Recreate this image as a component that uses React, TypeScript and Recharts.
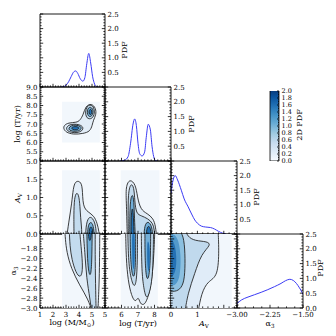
import React from 'react';
import { ComposedChart, XAxis, YAxis, Scatter, Line, Bar } from 'recharts';

const FONT = 'DejaVu Serif';
const M = 30;

// ---------- 1D marginal PDFs ----------
const logMGrid = [2.6, 2.8, 3.0, 3.2, 3.4, 3.6, 3.75, 3.9, 4.1, 4.3, 4.45, 4.6, 4.75, 4.9, 5.05, 5.2, 5.35, 5.5];
const logMPdf = [0, 0.01, 0.06, 0.18, 0.36, 0.52, 0.55, 0.47, 0.28, 0.2, 0.32, 0.8, 1.15, 0.82, 0.35, 0.1, 0.01, 0];
const logTGrid = [5.9, 6.2, 6.4, 6.55, 6.7, 6.8, 6.9, 7.0, 7.1, 7.25, 7.4, 7.5, 7.62, 7.75, 7.85, 7.95, 8.05, 8.2];
const logTPdf = [0, 0.03, 0.15, 0.6, 1.25, 1.42, 1.2, 0.6, 0.25, 0.17, 0.3, 0.8, 1.24, 1.05, 0.5, 0.15, 0.02, 0];
const avGrid = [0, 0.08, 0.16, 0.25, 0.39, 0.5, 0.65, 0.8, 0.9, 1.0, 1.15, 1.3, 1.5, 1.65, 1.8, 1.95, 2.08];
const avPdf = [1.4, 1.85, 2.0, 1.85, 1.5, 1.2, 0.93, 0.65, 0.48, 0.37, 0.27, 0.24, 0.22, 0.17, 0.09, 0.03, 0];
const a3Grid = [-3.0, -2.9, -2.75, -2.6, -2.45, -2.3, -2.15, -2.0, -1.9, -1.8, -1.72, -1.65, -1.58, -1.52, -1.5];
const a3Pdf = [0.15, 0.27, 0.37, 0.45, 0.53, 0.62, 0.72, 0.83, 0.92, 0.97, 0.93, 0.83, 0.68, 0.52, 0.45];

// ---------- 2D contours (x, y) ----------
type P = [number, number][];
// log M vs log T
const mtBg: P = [[2.7, 6.0], [5.6, 6.0], [5.6, 8.2], [2.7, 8.2]];
const mtC1: P = [[2.8, 6.75], [3.0, 6.55], [3.56, 6.43], [4.33, 6.48], [4.85, 6.6], [5.02, 6.93], [5.1, 7.2], [5.32, 7.5], [5.3, 7.85], [4.97, 8.12], [4.5, 7.97], [4.33, 7.5], [4.08, 7.2], [3.82, 7.08], [3.18, 7.07], [2.85, 6.93]];
const mtC2u: P = [[4.85, 8.05], [5.12, 7.95], [5.22, 7.65], [5.1, 7.35], [4.82, 7.25], [4.55, 7.35], [4.48, 7.65], [4.6, 7.95]];
const mtC2l: P = [[3.0, 6.78], [3.2, 6.95], [3.6, 7.0], [4.05, 6.97], [4.35, 6.83], [4.25, 6.62], [3.85, 6.52], [3.4, 6.54], [3.1, 6.63]];
const mtC3u: P = [[4.88, 7.92], [5.07, 7.82], [5.1, 7.62], [4.98, 7.42], [4.8, 7.38], [4.65, 7.5], [4.63, 7.72], [4.72, 7.88]];
const mtC3l: P = [[3.2, 6.78], [3.4, 6.92], [3.75, 6.95], [4.15, 6.88], [4.2, 6.72], [3.9, 6.6], [3.5, 6.6], [3.25, 6.67]];
const mtC4u: P = [[4.9, 7.82], [5.0, 7.72], [4.98, 7.55], [4.86, 7.48], [4.76, 7.58], [4.78, 7.75]];
const mtC4l: P = [[3.4, 6.8], [3.6, 6.87], [3.95, 6.85], [4.02, 6.75], [3.8, 6.67], [3.5, 6.69]];
// log M vs Av
const maBg: P = [[2.7, -0.1], [5.6, -0.1], [5.6, 1.75], [2.7, 1.75]];
const maC1: P = [[3.05, -0.1], [3.05, -0.1], [3.2, 0.3], [3.45, 0.85], [3.55, 1.25], [3.72, 1.45], [4.08, 1.45], [4.28, 1.3], [4.28, 0.75], [4.7, 0.6], [5.15, 0.5], [5.4, 0.3], [5.55, 0.05], [5.55, -0.1], [5.55, -0.1]];
const maC2a: P = [[3.62, -0.1], [3.62, -0.1], [3.6, 0.4], [3.62, 0.9], [3.76, 1.14], [3.98, 1.1], [4.08, 0.75], [4.12, 0.45], [4.2, 0.2], [4.22, -0.1], [4.22, -0.1]];
const maC2b: P = [[4.5, -0.1], [4.5, -0.1], [4.55, 0.3], [4.8, 0.5], [5.15, 0.4], [5.32, 0.15], [5.32, -0.1], [5.32, -0.1]];
const maC3: P = [[4.65, -0.1], [4.65, -0.1], [4.68, 0.22], [4.88, 0.35], [5.12, 0.25], [5.18, -0.1], [5.18, -0.1]];
const maC4: P = [[4.76, -0.1], [4.76, -0.1], [4.78, 0.14], [4.92, 0.22], [5.06, 0.14], [5.08, -0.1], [5.08, -0.1]];
// log T vs Av
const taBg: P = [[5.95, -0.1], [8.3, -0.1], [8.3, 1.75], [5.95, 1.75]];
const taC1: P = [[6.35, -0.1], [6.35, -0.1], [6.3, 0.84], [6.25, 1.3], [6.5, 1.52], [6.86, 1.36], [6.96, 1.02], [7.16, 0.66], [7.56, 0.56], [7.93, 0.43], [8.07, 0.2], [8.13, -0.1], [8.13, -0.1]];
const taC2: P = [[6.42, -0.1], [6.42, -0.1], [6.4, 0.5], [6.4, 1.1], [6.55, 1.4], [6.76, 1.3], [6.8, 0.9], [6.9, 0.55], [7.2, 0.5], [7.6, 0.42], [7.9, 0.3], [8.0, 0.1], [8.0, -0.1], [8.0, -0.1]];
const taC3a: P = [[6.5, -0.1], [6.5, -0.1], [6.5, 0.6], [6.56, 1.02], [6.7, 1.1], [6.76, 0.8], [6.8, 0.3], [6.84, -0.1], [6.84, -0.1]];
const taC3b: P = [[7.35, -0.1], [7.35, -0.1], [7.4, 0.25], [7.6, 0.36], [7.85, 0.22], [7.9, -0.1], [7.9, -0.1]];
const taC4a: P = [[6.58, -0.1], [6.58, -0.1], [6.58, 0.5], [6.66, 0.78], [6.73, 0.5], [6.76, -0.1], [6.76, -0.1]];
const taC4b: P = [[7.5, -0.1], [7.5, -0.1], [7.52, 0.15], [7.65, 0.24], [7.78, 0.13], [7.8, -0.1], [7.8, -0.1]];
// log M vs alpha3
const mbBg: P = [[2.7, -3.1], [5.6, -3.1], [5.6, -1.4], [2.7, -1.4]];
const mbC1: P = [[2.9, -1.4], [2.9, -1.4], [2.95, -1.6], [3.05, -1.86], [3.4, -2.2], [4.05, -2.54], [4.7, -2.82], [5.05, -3.1], [5.05, -3.1], [5.45, -3.1], [5.45, -3.1], [5.55, -2.5], [5.58, -2.1], [5.6, -1.4], [5.6, -1.4]];
const mbC2a: P = [[3.25, -1.4], [3.25, -1.4], [3.3, -1.75], [3.45, -2.02], [3.75, -2.28], [4.1, -2.4], [4.3, -2.25], [4.22, -1.9], [4.1, -1.6], [4.05, -1.4], [4.05, -1.4]];
const mbC2b: P = [[4.3, -1.4], [4.3, -1.4], [4.45, -1.86], [4.58, -2.4], [4.85, -2.82], [4.98, -3.1], [4.98, -3.1], [5.32, -3.1], [5.32, -3.1], [5.27, -2.5], [5.24, -1.9], [5.25, -1.4], [5.25, -1.4]];
const mbC3: P = [[4.6, -1.4], [4.6, -1.4], [4.62, -1.7], [4.65, -2.0], [4.75, -2.3], [4.9, -2.36], [4.98, -2.1], [5.0, -1.75], [5.02, -1.4], [5.02, -1.4]];
const mbC4: P = [[4.72, -1.4], [4.72, -1.4], [4.74, -1.62], [4.9, -1.66], [4.98, -1.4], [4.98, -1.4]];
// log T vs alpha3
const tbBg: P = [[5.95, -3.1], [8.2, -3.1], [8.2, -1.4], [5.95, -1.4]];
const tbC1: P = [[6.25, -1.4], [6.25, -1.4], [6.28, -2.0], [6.4, -2.45], [6.6, -2.75], [6.85, -2.9], [7.02, -2.75], [7.12, -2.92], [7.4, -2.95], [7.65, -2.75], [7.85, -2.4], [7.97, -1.9], [8.02, -1.4], [8.02, -1.4]];
const tbC2a: P = [[6.38, -1.4], [6.38, -1.4], [6.42, -2.1], [6.6, -2.45], [6.8, -2.6], [6.93, -2.4], [6.97, -1.9], [6.97, -1.4], [6.97, -1.4]];
const tbC2b: P = [[7.2, -1.4], [7.2, -1.4], [7.22, -2.2], [7.32, -2.55], [7.5, -2.84], [7.7, -2.7], [7.87, -2.4], [7.93, -1.9], [7.94, -1.4], [7.94, -1.4]];
const tbC3a: P = [[6.52, -1.4], [6.52, -1.4], [6.54, -2.0], [6.65, -2.36], [6.8, -2.38], [6.86, -2.0], [6.86, -1.4], [6.86, -1.4]];
const tbC3b: P = [[7.42, -1.4], [7.42, -1.4], [7.42, -2.0], [7.5, -2.42], [7.66, -2.42], [7.76, -2.0], [7.77, -1.4], [7.77, -1.4]];
const tbC4a: P = [[6.64, -1.4], [6.8, -1.4], [6.82, -1.9], [6.76, -2.25], [6.68, -2.2], [6.64, -1.85]];
const tbC4b: P = [[7.58, -1.6], [7.72, -1.72], [7.72, -2.15], [7.65, -2.3], [7.56, -2.15], [7.55, -1.8]];
// Av vs alpha3
const abBg: P = [[0, -3.1], [2.3, -3.1], [2.3, -1.4], [0, -1.4]];
const abC0: P = [[-0.2, -1.4], [-0.2, -1.4], [1.78, -1.4], [1.78, -1.4], [1.82, -1.8], [1.78, -2.37], [1.4, -2.45], [1.15, -2.7], [1.02, -3.1], [1.02, -3.1], [-0.2, -3.1], [-0.2, -3.1]];
const abC1: P = [[-0.2, -1.4], [-0.2, -1.4], [0.55, -1.4], [0.62, -1.55], [0.9, -1.64], [1.38, -1.65], [1.52, -1.72], [1.15, -1.9], [0.9, -2.3], [0.64, -2.7], [0.52, -3.1], [0.52, -3.1], [-0.2, -3.1], [-0.2, -3.1]];
const abC2: P = [[-0.2, -1.4], [-0.2, -1.4], [0.35, -1.4], [0.5, -1.6], [0.54, -2.0], [0.52, -2.4], [0.4, -2.6], [0.15, -2.68], [-0.2, -2.64], [-0.2, -2.64]];
const abCore1: P = [[-0.2, -1.45], [0.25, -1.5], [0.38, -1.9], [0.35, -2.35], [0.2, -2.55], [-0.2, -2.58]];
const abCore2: P = [[-0.2, -1.55], [0.12, -1.6], [0.22, -1.95], [0.18, -2.35], [-0.2, -2.45]];

// colour bar
const cbData = [{ n: '2D PDF', v: 2.0 }];

// ---------- helpers ----------
function rng(a: number, b: number, s: number): number[] {
  const out: number[] = [];
  const n = Math.round((b - a) / s);
  for (let i = 0; i <= n; i++) out.push(Math.round((a + i * s) * 1e6) / 1e6);
  return out;
}
const pts = (d: P) => d.map(([x, y]) => ({ x, y }));
const line1d = (g: number[], p: number[]) => g.map((x, i) => ({ x, y: p[i] }));
const fmt = (d: number) => (v: number) => v.toFixed(d).replace('-', '\u2212');
const has = (arr: number[] | undefined, v: number) => !!arr && arr.some((m) => Math.abs(m - v) < 1e-6);

interface Ax { domain: [number, number]; major: number[]; minor: number[] }
const AX_LOGM: Ax = { domain: [1, 6], major: rng(1, 6, 1), minor: rng(1, 6, 0.2) };
const AX_LOGT: Ax = { domain: [5, 9], major: rng(5, 9, 1), minor: rng(5, 9, 0.2) };
const AX_AV: Ax = { domain: [0, 2.5], major: [0, 1, 2], minor: rng(0, 2.4, 0.2) };
const AX_A3: Ax = { domain: [-3, -1.5], major: [-3, -2.25, -1.5], minor: rng(-3, -1.5, 0.1875) };
const AY_LOGT: Ax = { domain: [5, 9], major: rng(5, 9, 0.5), minor: rng(5, 9, 0.1) };
const AY_AV: Ax = { domain: [0, 2], major: rng(0, 2, 0.5), minor: rng(0, 2, 0.1) };
const AY_A3: Ax = { domain: [-3, -1.5], major: rng(-3, -1.6, 0.2), minor: rng(-3, -1.5, 0.05) };
const AY_PDF: Ax = { domain: [0, 2.5], major: rng(0, 2.5, 0.5), minor: rng(0, 2.5, 0.1) };
const CB_AX: Ax = { domain: [0, 2], major: rng(0, 2, 0.2), minor: rng(0, 2, 0.05) };

const COLS = [{ x: 40, w: 65 }, { x: 105, w: 66 }, { x: 171, w: 66 }, { x: 237, w: 66 }];
const ROWS = [{ y: 14, h: 73 }, { y: 87, h: 74 }, { y: 161, h: 73 }, { y: 234, h: 74 }];

const C = { bg: '#f2f7fc', l1: '#e2edf8', l2: '#c3dbee', l3: '#72afd9', l4: '#2170b4' };
const STROKE = '#1c1c1c';

const noShape = () => <g />;

type Side = 'b' | 't' | 'l' | 'r';

// One axis per side: the custom tick draws an inward tick mark (major/minor) and an optional label.
function mkTick(side: Side, ax: Ax, labels: number[] | undefined, f: (v: number) => string, fs = 7, big = 3.2, small = 1.6) {
  return (p: any) => {
    const x = Number(p.x);
    const y = Number(p.y);
    const v = Number(p.payload?.value);
    const L = has(ax.major, v) ? big : small;
    const lab = has(labels, v);
    const tStyle = { fontSize: fs, fontFamily: FONT, fill: '#000' };
    let ln: React.ReactNode = null;
    let tx: React.ReactNode = null;
    if (side === 'b') {
      ln = <line x1={x} y1={y} x2={x} y2={y - L} stroke="#000" strokeWidth={0.8} />;
      if (lab) tx = <text x={x} y={y + 3.6} dy="0.75em" textAnchor="middle" style={tStyle}>{f(v)}</text>;
    } else if (side === 't') {
      ln = <line x1={x} y1={y} x2={x} y2={y + L} stroke="#000" strokeWidth={0.8} />;
    } else if (side === 'l') {
      ln = <line x1={x} y1={y} x2={x + L} y2={y} stroke="#000" strokeWidth={0.8} />;
      if (lab) tx = <text x={x - 2.5} y={y} dy="0.36em" textAnchor="end" style={tStyle}>{f(v)}</text>;
    } else {
      ln = <line x1={x} y1={y} x2={x - L} y2={y} stroke="#000" strokeWidth={0.8} />;
      if (lab) tx = <text x={x + 2.5} y={y} dy="0.36em" textAnchor="start" style={tStyle}>{f(v)}</text>;
    }
    return <g>{ln}{tx}</g>;
  };
}

const allTicks = (ax: Ax) => Array.from(new Set([...ax.minor, ...ax.major])).sort((a, b) => a - b);

type Lyr = { d: P; fill: string; edge?: boolean; lin?: boolean };

function layers(ls: Lyr[]) {
  return ls.map((L, i) => (
    <Scatter
      key={'s' + i}
      xAxisId="b"
      yAxisId="l"
      data={pts(L.d)}
      shape={noShape}
      line={{ fill: L.fill, stroke: L.edge ? STROKE : 'none', strokeWidth: 0.85 }}
      lineType="joint"
      lineJointType={L.lin ? 'linearClosed' : 'basisClosed'}
      isAnimationActive={false}
    />
  ));
}

// 1D marginal curve as a Line series with its own data
function curve(g: number[], p: number[]) {
  return (
    <Line xAxisId="b" yAxisId="l" data={line1d(g, p)} dataKey="y" type="monotoneX" dot={false} activeDot={false}
      stroke="#3b3bf5" strokeWidth={1} isAnimationActive={false} />
  );
}

interface PanelProps {
  c: number; r: number; xa: Ax; ya: Ax;
  xLab?: number[]; xFmt?: (v: number) => string;
  yLabL?: number[]; yLabR?: number[]; yFmt?: (v: number) => string;
  children?: React.ReactNode;
}

function Panel({ c, r, xa, ya, xLab, xFmt, yLabL, yLabR, yFmt, children }: PanelProps) {
  const { x, w } = COLS[c];
  const { y, h } = ROWS[r];
  const margin = { top: M - 1, bottom: M - 1, left: M - 1, right: M - 1 };
  const common = { type: 'number' as const, allowDataOverflow: true, interval: 0 as const, tickLine: false, tickSize: 0, tickMargin: 0, axisLine: { stroke: '#000', strokeWidth: 0.9 } };
  return (
    <div style={{ position: 'absolute', left: x - M, top: y - M }}>
      <ComposedChart width={w + 2 * M} height={h + 2 * M} margin={margin}>
        {children}
        <XAxis xAxisId="b" dataKey="x" orientation="bottom" height={1} domain={xa.domain} ticks={allTicks(xa)}
          tick={mkTick('b', xa, xLab, xFmt ?? fmt(0))} {...common} />
        <XAxis xAxisId="t" orientation="top" height={1} domain={xa.domain} ticks={allTicks(xa)}
          tick={mkTick('t', xa, undefined, fmt(0))} {...common} />
        <YAxis yAxisId="l" dataKey="y" orientation="left" width={1} domain={ya.domain} ticks={allTicks(ya)}
          tick={mkTick('l', ya, yLabL, yFmt ?? fmt(1))} {...common} />
        <YAxis yAxisId="r" orientation="right" width={1} domain={ya.domain} ticks={allTicks(ya)}
          tick={mkTick('r', ya, yLabR, fmt(1))} {...common} />
      </ComposedChart>
    </div>
  );
}

const Title = ({ x, y, rot, size = 8, children }: { x: number; y: number; rot?: boolean; size?: number; children: React.ReactNode }) => (
  <div style={{
    position: 'absolute', left: x, top: y, transform: `translate(-50%, -50%)${rot ? ' rotate(-90deg)' : ''}`,
    fontFamily: FONT, fontSize: size, whiteSpace: 'nowrap', lineHeight: 1, color: '#000',
  }}>{children}</div>
);

const Sub = ({ children }: { children: React.ReactNode }) => (
  <span style={{ fontSize: '70%', verticalAlign: '-0.3em' }}>{children}</span>
);

const cbShape = (p: any) => {
  const { x, y, width, height } = p;
  const d = `M${x},${y + height} L${x},${y} L${x + width / 2},${y - 3.8} L${x + width},${y} L${x + width},${y + height} Z`;
  return <path d={d} fill="url(#cbGrad)" stroke="#000" strokeWidth={0.8} />;
};

const pdfLabs = [0.5, 1, 1.5, 2, 2.5];

export default function App() {
  return (
    <div style={{ position: 'absolute', left: 0, top: 0, width: 336, height: 336, background: '#fff', overflow: 'hidden' }}>
      <Panel c={0} r={0} xa={AX_LOGM} ya={AY_PDF} yLabR={pdfLabs}>{curve(logMGrid, logMPdf)}</Panel>

      <Panel c={0} r={1} xa={AX_LOGM} ya={AY_LOGT} yLabL={rng(5, 9, 0.5)}>
        {layers([
          { d: mtBg, fill: C.bg, lin: true },
          { d: mtC1, fill: C.l1, edge: true },
          { d: mtC2u, fill: C.l2, edge: true }, { d: mtC2l, fill: C.l2, edge: true },
          { d: mtC3u, fill: C.l3, edge: true }, { d: mtC3l, fill: C.l3, edge: true },
          { d: mtC4u, fill: C.l4, edge: true }, { d: mtC4l, fill: C.l4, edge: true },
        ])}
      </Panel>
      <Panel c={1} r={1} xa={AX_LOGT} ya={AY_PDF} yLabR={pdfLabs}>{curve(logTGrid, logTPdf)}</Panel>

      <Panel c={0} r={2} xa={AX_LOGM} ya={AY_AV} yLabL={[0, 0.5, 1, 1.5]}>
        {layers([
          { d: maBg, fill: C.bg, lin: true },
          { d: maC1, fill: C.l1, edge: true },
          { d: maC2a, fill: C.l2, edge: true }, { d: maC2b, fill: C.l2, edge: true },
          { d: maC3, fill: C.l3, edge: true },
          { d: maC4, fill: C.l4, edge: true },
        ])}
      </Panel>
      <Panel c={1} r={2} xa={AX_LOGT} ya={AY_AV}>
        {layers([
          { d: taBg, fill: C.bg, lin: true },
          { d: taC1, fill: C.l1, edge: true },
          { d: taC2, fill: C.l2, edge: true },
          { d: taC3a, fill: C.l3, edge: true }, { d: taC3b, fill: C.l3, edge: true },
          { d: taC4a, fill: C.l4, edge: true }, { d: taC4b, fill: C.l4, edge: true },
        ])}
      </Panel>
      <Panel c={2} r={2} xa={AX_AV} ya={AY_PDF} yLabR={pdfLabs}>{curve(avGrid, avPdf)}</Panel>

      <Panel c={0} r={3} xa={AX_LOGM} ya={AY_A3} yLabL={rng(-3, -1.8, 0.2)} xLab={[1, 2, 3, 4, 5]}>
        {layers([
          { d: mbBg, fill: C.bg, lin: true },
          { d: mbC1, fill: C.l1, edge: true },
          { d: mbC2a, fill: C.l2, edge: true }, { d: mbC2b, fill: C.l2, edge: true },
          { d: mbC3, fill: C.l3, edge: true },
          { d: mbC4, fill: C.l4, edge: true },
        ])}
      </Panel>
      <Panel c={1} r={3} xa={AX_LOGT} ya={AY_A3} xLab={[5, 6, 7, 8]}>
        {layers([
          { d: tbBg, fill: C.bg, lin: true },
          { d: tbC1, fill: C.l1, edge: true },
          { d: tbC2a, fill: C.l2, edge: true }, { d: tbC2b, fill: C.l2, edge: true },
          { d: tbC3a, fill: C.l3, edge: true }, { d: tbC3b, fill: C.l3, edge: true },
          { d: tbC4a, fill: C.l4 }, { d: tbC4b, fill: C.l4 },
        ])}
      </Panel>
      <Panel c={2} r={3} xa={AX_AV} ya={AY_A3} xLab={[0, 1]}>
        {layers([
          { d: abBg, fill: C.bg, lin: true },
          { d: abC0, fill: '#e0ecf8', edge: true },
          { d: abC1, fill: '#c0d9ed', edge: true },
          { d: abC2, fill: '#8cc0e0', edge: true },
          { d: abCore1, fill: '#5299cb' },
          { d: abCore2, fill: '#2370b3' },
        ])}
      </Panel>
      <Panel c={3} r={3} xa={AX_A3} ya={AY_PDF} xLab={[-3, -2.25, -1.5]} xFmt={fmt(2)} yLabR={rng(0, 2.5, 0.5)}>{curve(a3Grid, a3Pdf)}</Panel>

      {/* colour bar */}
      <div style={{ position: 'absolute', left: 270 - M, top: 91 - M }}>
        <ComposedChart width={9 + 2 * M} height={70 + 2 * M} margin={{ top: M, right: M - 1, bottom: M, left: M }} data={cbData} barCategoryGap={0}>
          <defs>
            <linearGradient id="cbGrad" x1="0" y1="1" x2="0" y2="0">
              <stop offset="0" stopColor="#f7fbff" />
              <stop offset="0.125" stopColor="#deebf7" />
              <stop offset="0.25" stopColor="#c6dbef" />
              <stop offset="0.375" stopColor="#9ecae1" />
              <stop offset="0.5" stopColor="#6baed6" />
              <stop offset="0.625" stopColor="#4292c6" />
              <stop offset="0.75" stopColor="#2171b5" />
              <stop offset="0.875" stopColor="#08519c" />
              <stop offset="1" stopColor="#08306b" />
            </linearGradient>
          </defs>
          <XAxis dataKey="n" type="category" hide />
          <Bar yAxisId="cb" dataKey="v" isAnimationActive={false} shape={cbShape} />
          <YAxis yAxisId="cb" orientation="right" type="number" domain={[0, 2]} allowDataOverflow width={1}
            ticks={allTicks(CB_AX)} interval={0} tickLine={false} axisLine={false} tickSize={0} tickMargin={0}
            tick={mkTick('r', CB_AX, CB_AX.major, fmt(1), 6.5, 2, 1)} />
        </ComposedChart>
      </div>

      {/* axis titles */}
      <Title x={72} y={324}>log (M/M<Sub>⊙</Sub>)</Title>
      <Title x={138} y={324}>log (T/yr)</Title>
      <Title x={204} y={325}><i>A</i><Sub>V</Sub></Title>
      <Title x={270} y={325}>α<Sub>3</Sub></Title>
      <Title x={18} y={124} rot>log (T/yr)</Title>
      <Title x={19} y={198} rot><i>A</i><Sub>V</Sub></Title>
      <Title x={15} y={271} rot>α<Sub>3</Sub></Title>
      <Title x={125} y={50} rot>PDF</Title>
      <Title x={192} y={124} rot>PDF</Title>
      <Title x={257} y={197} rot>PDF</Title>
      <Title x={321} y={268} rot>PDF</Title>
      <Title x={300} y={125} rot>2D PDF</Title>
    </div>
  );
}
